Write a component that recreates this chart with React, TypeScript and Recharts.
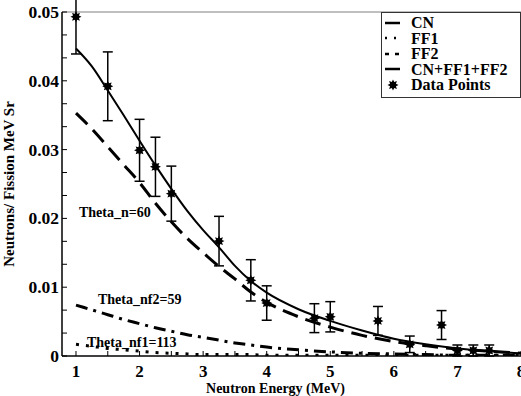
import {
  ComposedChart,
  ErrorBar,
  Legend,
  Line,
  ReferenceDot,
  ReferenceLine,
  Scatter,
  XAxis,
  YAxis,
} from 'recharts'

const FONT = '"Liberation Serif", "Times New Roman", serif'

// model curves
const curveEnergy = [1, 1.25, 1.5, 1.75, 2, 2.25, 2.5, 2.75, 3, 3.25, 3.5, 3.75, 4, 4.5, 5, 5.5, 6, 6.5, 7, 7.5, 8]
const cnCurve = [0.0353, 0.033, 0.0304, 0.0278, 0.0252, 0.0222, 0.0195, 0.0171, 0.015, 0.013, 0.0112, 0.0093, 0.0078, 0.0057, 0.0042, 0.003, 0.0021, 0.0015, 0.001, 0.0007, 0.0004]
const ff1Curve = [0.0017, 0.0014, 0.0011, 0.0009, 0.0007, 0.0005, 0.0004, 0.0003, 0.0002, 0.0002, 0.0002, 0.0002, 0.0001, 0.0001, 0.0001, 0.0001, 0.0001, 0.0001, 0.0001, 0.0001, 0.0001]
const ff2Curve = [0.0074, 0.0067, 0.006, 0.0053, 0.0047, 0.0041, 0.0036, 0.0031, 0.0027, 0.0023, 0.0019, 0.0016, 0.0013, 0.0009, 0.0006, 0.0004, 0.0003, 0.0002, 0.0001, 0.0001, 0.0001]
const totalCurve = [0.0447, 0.0421, 0.0386, 0.035, 0.0313, 0.0277, 0.0243, 0.0211, 0.0183, 0.0158, 0.0131, 0.0109, 0.0092, 0.0068, 0.0051, 0.0037, 0.0025, 0.0017, 0.0011, 0.0007, 0.0004]

// measured points
const pointEnergy = [1, 1.5, 2, 2.25, 2.5, 3.25, 3.75, 4, 4.75, 5, 5.75, 6.25, 6.75, 7, 7.25, 7.5]
const pointValue = [0.0493, 0.0392, 0.0299, 0.0275, 0.0236, 0.0167, 0.011, 0.0077, 0.0055, 0.0057, 0.0051, 0.0017, 0.0045, 0.0008, 0.0008, 0.0008]
const pointError = [0.0054, 0.005, 0.0045, 0.0043, 0.004, 0.0036, 0.003, 0.0025, 0.0021, 0.0022, 0.0021, 0.0012, 0.0021, 0.0008, 0.0008, 0.0008]

const xTicks = [1, 1.5, 2, 2.5, 3, 3.5, 4, 4.5, 5, 5.5, 6, 6.5, 7, 7.5, 8]
const xLabelTicks = [1, 2, 3, 4, 5, 6, 7, 8]
const xTickLabels = ['1', '2', '3', '4', '5', '6', '7', '8']
const yTicks = [0, 0.003333, 0.006667, 0.01, 0.013333, 0.016667, 0.02, 0.023333, 0.026667, 0.03, 0.033333, 0.036667, 0.04, 0.043333, 0.046667, 0.05]
const yLabelTicks = [0, 0.01, 0.02, 0.03, 0.04, 0.05]
const yTickLabels = ['0', '0.01', '0.02', '0.03', '0.04', '0.05']

const notes = ['Theta_n=60', 'Theta_nf2=59', 'Theta_nf1=113']
const noteEnergy = [1.047, 1.346, 1.173]
const noteValue = [0.0209, 0.0083, 0.002]

const legendNames = ['CN', 'FF1', 'FF2', 'CN+FF1+FF2', 'Data Points']

const curveData = curveEnergy.map((x, i) => ({
  x,
  cn: cnCurve[i],
  ff1: ff1Curve[i],
  ff2: ff2Curve[i],
  total: totalCurve[i],
}))

const pointData = pointEnergy.map((x, i) => ({ x, y: pointValue[i], err: pointError[i] }))

const textStyle = { fontFamily: FONT, fontWeight: 'bold' as const, fill: '#000' }

function XTick(props: any) {
  const { x, y, payload } = props
  const axisY = y - 8
  const i = xLabelTicks.findIndex((t) => Math.abs(t - payload.value) < 1e-6)
  return (
    <g>
      <line x1={x} x2={x} y1={axisY} y2={axisY - 5} stroke="#000" strokeWidth={1} />
      {i >= 0 && (
        <text x={x} y={axisY + 21} textAnchor="middle" fontSize={17} {...textStyle}>
          {xTickLabels[i]}
        </text>
      )}
    </g>
  )
}

function YTick(props: any) {
  const { x, y, payload } = props
  const axisX = x + 4
  const i = yLabelTicks.findIndex((t) => Math.abs(t - payload.value) < 1e-5)
  return (
    <g>
      <line x1={axisX} x2={axisX + 5} y1={y} y2={y} stroke="#000" strokeWidth={1} />
      {i >= 0 && (
        <text x={axisX - 3} y={y + 6} textAnchor="end" fontSize={17.5} {...textStyle}>
          {yTickLabels[i]}
        </text>
      )}
    </g>
  )
}

function Star(props: any) {
  const { cx, cy } = props
  const pts: string[] = []
  for (let k = 0; k < 16; k++) {
    const r = k % 2 === 0 ? 5.5 : 3.2
    const a = (k * Math.PI) / 8 - Math.PI / 2
    pts.push(`${cx + r * Math.cos(a)},${cy + r * Math.sin(a)}`)
  }
  return <polygon points={pts.join(' ')} fill="#000" />
}

function LegendSample({ index }: { index: number }) {
  if (index === 4) {
    return (
      <svg width={20} height={12}>
        <Star cx={8} cy={6} />
      </svg>
    )
  }
  const dash = index === 1 ? '2 7' : index === 2 ? '4 6' : undefined
  return (
    <svg width={20} height={12}>
      <line x1={0} x2={15} y1={6} y2={6} stroke="#000" strokeWidth={2.5} strokeDasharray={dash} />
    </svg>
  )
}

function LegendBox() {
  return (
    <div
      style={{
        border: '1px solid #333',
        background: '#fff',
        width: 140,
        height: 86,
        boxSizing: 'border-box',
        padding: '2px 0 0 3px',
        fontFamily: FONT,
        fontWeight: 'bold',
        fontSize: 16,
        color: '#000',
      }}
    >
      {legendNames.map((name, i) => (
        <div key={name} style={{ display: 'flex', alignItems: 'center', height: 15.5 }}>
          <LegendSample index={i} />
          <span style={{ marginLeft: 6, lineHeight: '15.5px' }}>{name}</span>
        </div>
      ))}
    </div>
  )
}

export default function App() {
  return (
    <div style={{ position: 'absolute', left: 0, top: 0, background: '#fff' }}>
      <ComposedChart
        width={521}
        height={396}
        data={curveData}
        margin={{ top: 12, right: 0, bottom: 0, left: 0 }}
      >
        <XAxis
          dataKey="x"
          type="number"
          domain={[0.78, 8]}
          ticks={xTicks}
          interval={0}
          allowDataOverflow
          height={40}
          tickSize={6}
          tickMargin={2}
          tickLine={false}
          tick={<XTick />}
          axisLine={{ stroke: '#000', strokeWidth: 1.5 }}
          label={{
            value: 'Neutron Energy (MeV)',
            position: 'insideBottom',
            offset: 3,
            dx: -16,
            fontSize: 14,
            ...textStyle,
          }}
        />
        <YAxis
          type="number"
          domain={[0, 0.05]}
          ticks={yTicks}
          interval={0}
          allowDataOverflow
          width={62}
          tickSize={2}
          tickMargin={2}
          tickLine={false}
          tick={<YTick />}
          axisLine={{ stroke: '#000', strokeWidth: 1.5 }}
          label={{
            value: 'Neutrons/ Fission MeV Sr',
            angle: -90,
            position: 'insideLeft',
            offset: 17,
            dx: -8,
            fontSize: 15,
            style: { textAnchor: 'middle' },
            ...textStyle,
          }}
        />
        <ReferenceLine y={0.05} stroke="#aaa" strokeWidth={1.5} />
        <Line
          dataKey="cn"
          name="CN"
          type="monotone"
          stroke="#000"
          strokeWidth={3}
          strokeDasharray="16 8"
          dot={false}
          isAnimationActive={false}
        />
        <Line
          dataKey="ff1"
          name="FF1"
          type="monotone"
          stroke="#000"
          strokeWidth={3}
          strokeDasharray="3 7"
          dot={false}
          isAnimationActive={false}
        />
        <Line
          dataKey="ff2"
          name="FF2"
          type="monotone"
          stroke="#000"
          strokeWidth={3}
          strokeDasharray="12 6 3 6"
          dot={false}
          isAnimationActive={false}
        />
        <Line
          dataKey="total"
          name="CN+FF1+FF2"
          type="monotone"
          stroke="#000"
          strokeWidth={2}
          dot={false}
          isAnimationActive={false}
        />
        <Scatter
          data={pointData}
          dataKey="y"
          name="Data Points"
          shape={<Star />}
          isAnimationActive={false}
        >
          <ErrorBar dataKey="err" direction="y" width={5} stroke="#000" strokeWidth={1.5} />
        </Scatter>
        {notes.map((note, i) => (
          <ReferenceDot
            key={note}
            x={noteEnergy[i]}
            y={noteValue[i]}
            r={0}
            fill="none"
            stroke="none"
            label={{ value: note, position: 'right', offset: 0, fontSize: 14, ...textStyle }}
          />
        ))}
        <Legend
          layout="vertical"
          align="center"
          verticalAlign="middle"
          wrapperStyle={{ top: 12, left: 381, width: 140, height: 86 }}
          content={() => <LegendBox />}
        />
      </ComposedChart>
    </div>
  )
}
